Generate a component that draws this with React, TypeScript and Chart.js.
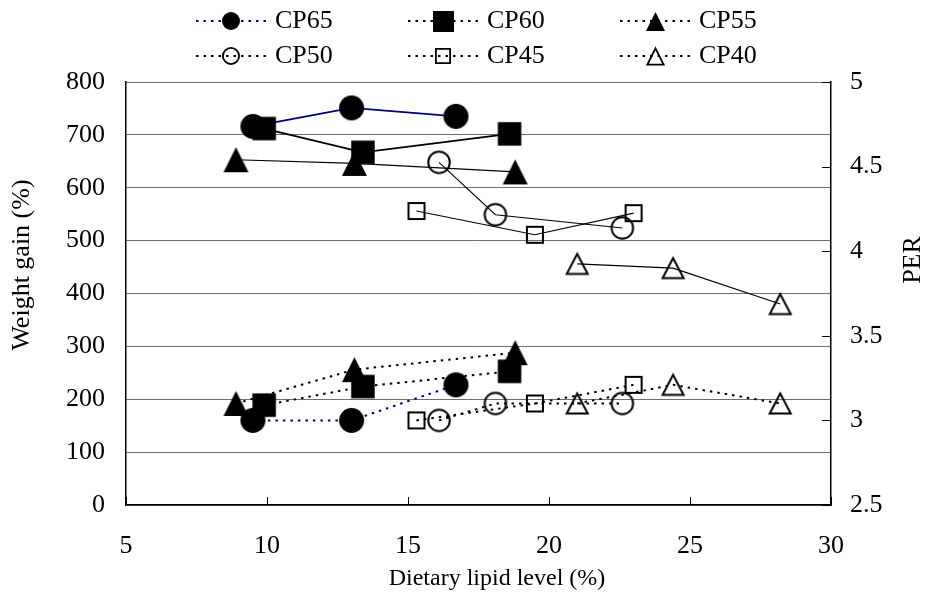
import React, { useEffect, useRef } from "react";
import { Chart, registerables } from "chart.js";

Chart.register(...registerables);

// ---------- data ----------
const seriesNames = ["CP65", "CP60", "CP55", "CP50", "CP45", "CP40"];

const lipidCP65 = [9.5, 13.0, 16.7];
const weightGainCP65 = [716, 751, 735];
const perCP65 = [3.0, 3.0, 3.21];

const lipidCP60 = [9.9, 13.4, 18.6];
const weightGainCP60 = [712, 667, 702];
const perCP60 = [3.09, 3.2, 3.29];

const lipidCP55 = [8.9, 13.1, 18.8];
const weightGainCP55 = [653, 646, 630];
const perCP55 = [3.1, 3.3, 3.4];

const lipidCP50 = [16.1, 18.1, 22.6];
const weightGainCP50 = [648, 549, 524];
const perCP50 = [3.0, 3.1, 3.1];

const lipidCP45 = [15.3, 19.5, 23.0];
const weightGainCP45 = [556, 511, 552];
const perCP45 = [3.0, 3.1, 3.21];

const lipidCP40 = [21.0, 24.4, 28.2];
const weightGainCP40 = [456, 448, 380];
const perCP40 = [3.1, 3.21, 3.1];

const xTicks = [5, 10, 15, 20, 25, 30];
const leftTicks = [0, 100, 200, 300, 400, 500, 600, 700, 800];
const rightTicks = [2.5, 3, 3.5, 4, 4.5, 5];

const xTitle = "Dietary lipid level (%)";
const leftTitle = "Weight gain (%)";
const rightTitle = "PER";

// ---------- styling ----------
const FONT = "'Liberation Serif', 'Times New Roman', serif";
const NAVY = "#000080";
const W = 927;
const H = 606;

type Shape = "circle" | "square" | "triangle";

function makeMarker(shape: Shape, filled: boolean, w: number, h: number, lw: number) {
  const pad = 2;
  const c = document.createElement("canvas");
  c.width = Math.ceil(w + pad * 2);
  c.height = Math.ceil(h + pad * 2);
  const ctx = c.getContext("2d")!;
  const cx = c.width / 2;
  const cy = c.height / 2;
  ctx.beginPath();
  if (shape === "circle") {
    ctx.arc(cx, cy, w / 2 - (filled ? 0 : lw / 2), 0, Math.PI * 2);
  } else if (shape === "square") {
    const s = filled ? w : w - lw;
    ctx.rect(cx - s / 2, cy - s / 2, s, s);
  } else {
    const ww = filled ? w : w - lw * 1.5;
    const hh = filled ? h : h - lw * 1.5;
    ctx.moveTo(cx, cy - hh / 2);
    ctx.lineTo(cx + ww / 2, cy + hh / 2);
    ctx.lineTo(cx - ww / 2, cy + hh / 2);
    ctx.closePath();
  }
  if (filled) {
    ctx.fillStyle = "#000";
    ctx.fill();
  } else {
    ctx.lineJoin = "miter";
    ctx.lineWidth = lw;
    ctx.strokeStyle = "#000";
    ctx.stroke();
  }
  return c;
}

export default function App() {
  const ref = useRef<HTMLCanvasElement | null>(null);

  useEffect(() => {
    const canvas = ref.current;
    if (!canvas) return;

    const plotMarkers = [
      makeMarker("circle", true, 25, 25, 0),
      makeMarker("square", true, 23.5, 23.5, 0),
      makeMarker("triangle", true, 25, 25, 0),
      makeMarker("circle", false, 23.5, 23.5, 2),
      makeMarker("square", false, 18, 18, 2),
      makeMarker("triangle", false, 24, 23, 2),
    ];
    const legendMarkers = [
      makeMarker("circle", true, 18, 18, 0),
      makeMarker("square", true, 21, 21, 0),
      makeMarker("triangle", true, 19, 19, 0),
      makeMarker("circle", false, 18, 18, 1.8),
      makeMarker("square", false, 16, 16, 1.8),
      makeMarker("triangle", false, 19, 19, 1.8),
    ];

    const lipids = [lipidCP65, lipidCP60, lipidCP55, lipidCP50, lipidCP45, lipidCP40];
    const gains = [weightGainCP65, weightGainCP60, weightGainCP55, weightGainCP50, weightGainCP45, weightGainCP40];
    const pers = [perCP65, perCP60, perCP55, perCP50, perCP45, perCP40];
    const solidWidths = [1.8, 1.8, 1.2, 1.1, 1.1, 1.1];
    const drawOrder = [6, 1, 5, 4, 3, 2];

    const datasets: any[] = [];
    seriesNames.forEach((name, i) => {
      const color = i === 0 ? NAVY : "#000";
      datasets.push({
        label: name + " weight gain",
        data: lipids[i].map((x, k) => ({ x, y: gains[i][k] })),
        yAxisID: "y",
        borderColor: color,
        borderWidth: solidWidths[i],
        pointStyle: plotMarkers[i],
        pointRadius: 10,
        pointHoverRadius: 10,
        tension: 0,
        fill: false,
        order: drawOrder[i] + 10,
      });
      datasets.push({
        label: name,
        data: lipids[i].map((x, k) => ({ x, y: pers[i][k] })),
        yAxisID: "y2",
        borderColor: color,
        borderWidth: 2,
        borderDash: [2.5, 5],
        pointStyle: plotMarkers[i],
        pointRadius: 10,
        pointHoverRadius: 10,
        tension: 0,
        fill: false,
        order: drawOrder[i],
      });
    });

    const overlay = {
      id: "overlay",
      afterDraw(chart: any) {
        const { ctx, chartArea, scales } = chart;
        ctx.save();
        // inner tick marks
        ctx.strokeStyle = "#000";
        ctx.lineWidth = 1;
        ctx.beginPath();
        xTicks.forEach((v) => {
          const px = Math.round(scales.x.getPixelForValue(v)) + 0.5;
          ctx.moveTo(px, chartArea.bottom);
          ctx.lineTo(px, chartArea.bottom - 8);
        });
        rightTicks.forEach((v) => {
          const py = Math.round(scales.y2.getPixelForValue(v)) + 0.5;
          ctx.moveTo(chartArea.right, py);
          ctx.lineTo(chartArea.right - 9, py);
        });
        ctx.stroke();

        // axis titles
        ctx.fillStyle = "#000";
        ctx.textAlign = "center";
        ctx.textBaseline = "middle";
        ctx.font = `24px ${FONT}`;
        ctx.fillText(xTitle, 497, 579);
        ctx.font = `26px ${FONT}`;
        ctx.save();
        ctx.translate(22, 265);
        ctx.rotate(-Math.PI / 2);
        ctx.fillText(leftTitle, 0, 0);
        ctx.restore();
        ctx.save();
        ctx.translate(913, 260);
        ctx.rotate(-Math.PI / 2);
        ctx.fillText(rightTitle, 0, 0);
        ctx.restore();

        // legend
        const cols = [231, 443, 655];
        const rows = [21, 56];
        seriesNames.forEach((name, i) => {
          const mx = cols[i % 3];
          const my = rows[Math.floor(i / 3)];
          ctx.save();
          ctx.strokeStyle = i === 0 ? NAVY : "#000";
          ctx.lineWidth = 2;
          ctx.setLineDash([2.5, 5]);
          ctx.beginPath();
          ctx.moveTo(mx - 35, my);
          ctx.lineTo(mx + 37, my);
          ctx.stroke();
          ctx.restore();
          const m = legendMarkers[i];
          ctx.drawImage(m, Math.round(mx - m.width / 2), Math.round(my - m.height / 2));
          ctx.font = `26px ${FONT}`;
          ctx.textAlign = "left";
          ctx.textBaseline = "middle";
          ctx.fillStyle = "#000";
          ctx.fillText(name, mx + 44, my);
        });
        ctx.restore();
      },
    };

    const tickFont = { family: FONT, size: 26 };
    const chart = new Chart(canvas, {
      type: "line",
      data: { datasets },
      options: {
        responsive: false,
        animation: false,
        devicePixelRatio: 1,
        events: [],
        layout: { padding: { top: 82, left: 0, right: 0, bottom: 0 } },
        plugins: { legend: { display: false }, tooltip: { enabled: false }, title: { display: false } },
        scales: {
          x: {
            type: "linear",
            min: xTicks[0],
            max: xTicks[xTicks.length - 1],
            afterBuildTicks: (s: any) => { s.ticks = xTicks.map((v) => ({ value: v })); },
            ticks: { color: "#000", font: tickFont, padding: 26, maxRotation: 0, autoSkip: false, callback: (v: any) => String(v) },
            grid: { display: false, drawTicks: false },
            border: { display: true, color: "#000", width: 1.5 },
            afterFit: (s: any) => { s.height = H - 505; },
          },
          y: {
            type: "linear",
            position: "left",
            min: leftTicks[0],
            max: leftTicks[leftTicks.length - 1],
            afterBuildTicks: (s: any) => { s.ticks = leftTicks.map((v) => ({ value: v })); },
            ticks: { color: "#000", font: tickFont, padding: 21, autoSkip: false, callback: (v: any) => String(v) },
            grid: { color: "#6e6e6e", lineWidth: 1, drawTicks: false },
            border: { display: true, color: "#000", width: 1.5 },
            afterFit: (s: any) => { s.width = 126; },
          },
          y2: {
            type: "linear",
            position: "right",
            min: rightTicks[0],
            max: rightTicks[rightTicks.length - 1],
            afterBuildTicks: (s: any) => { s.ticks = rightTicks.map((v) => ({ value: v })); },
            ticks: { color: "#000", font: tickFont, padding: 19, autoSkip: false, callback: (v: any) => String(v) },
            grid: { display: false, drawTicks: false },
            border: { display: true, color: "#000", width: 1.5 },
            afterFit: (s: any) => { s.width = W - 831; },
          },
        },
      } as any,
      plugins: [overlay],
    });

    return () => chart.destroy();
  }, []);

  return (
    <div style={{ position: "absolute", left: 0, top: 0, width: W, height: H, background: "#fff" }}>
      <canvas ref={ref} width={W} height={H} style={{ display: "block", width: W, height: H }} />
    </div>
  );
}
